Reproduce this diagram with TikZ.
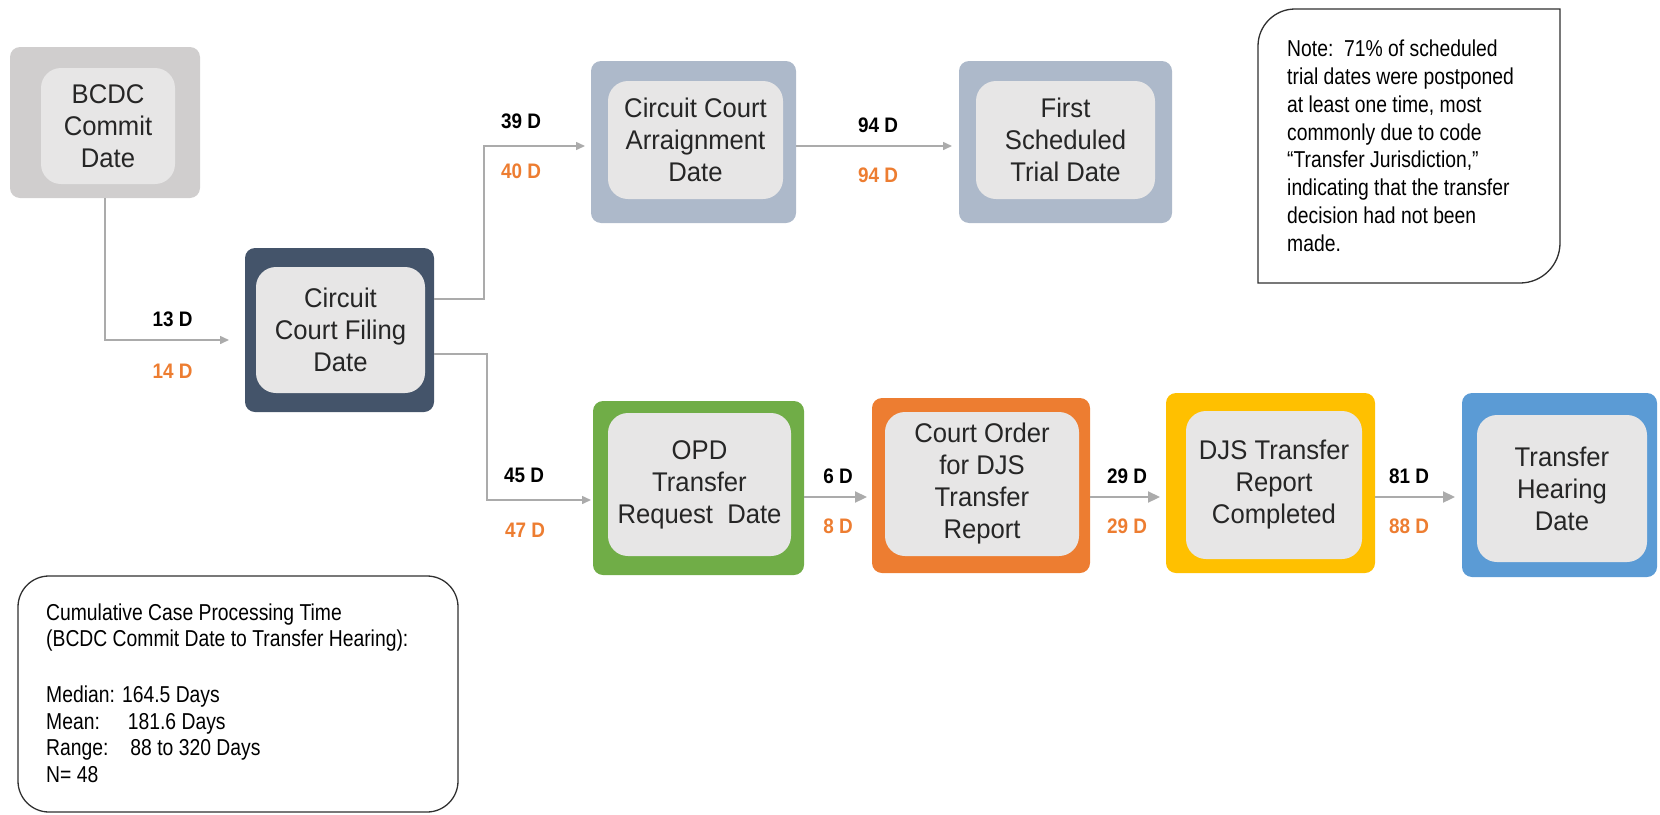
\documentclass[tikz,border=0pt]{standalone}
\usepackage{fontspec}
\setmainfont{Liberation Sans}
\newfontfamily\boxfont[FakeStretch=0.95]{Liberation Sans}
\newfontfamily\notefont[FakeStretch=0.84]{Liberation Sans}
\newfontfamily\labfont[FakeStretch=0.9]{Liberation Sans}
\usetikzlibrary{arrows.meta,calc}
\definecolor{innerfill}{HTML}{E7E6E6}
\definecolor{boxtext}{HTML}{262626}
\definecolor{graybox}{HTML}{D0CECE}
\definecolor{navybox}{HTML}{44546A}
\definecolor{bluegray}{HTML}{ADB9CA}
\definecolor{greenbox}{HTML}{70AD47}
\definecolor{orangec}{HTML}{ED7D31}
\definecolor{yellowbox}{HTML}{FFC000}
\definecolor{bluebox}{HTML}{5B9BD5}
\definecolor{arrowgray}{HTML}{ABABAB}
\definecolor{framec}{HTML}{303030}
\begin{document}
\begin{tikzpicture}[x=1pt,y=-1pt,
  outerbox/.style={rectangle,rounded corners=10pt,inner sep=0pt,outer sep=0pt,draw=none},
  innerbox/.style={rectangle,rounded corners=20pt,fill=innerfill,inner sep=0pt,outer sep=0pt,align=center,text=boxtext,font=\boxfont\fontsize{27}{32}\selectfont},
  thinarrow/.style={draw=arrowgray,line width=1.5pt,-{Triangle[length=9pt,width=8pt]}},
  thickarrow/.style={draw=arrowgray,line width=2.2pt,-{Triangle[length=12pt,width=11pt]}},
  blacklab/.style={anchor=base,font=\labfont\bfseries\fontsize{21}{24}\selectfont,text=black,inner sep=0pt},
  orangelab/.style={blacklab,text=orangec},
  frametext/.style={anchor=north west,align=left,inner sep=0pt,text=black}
]
\useasboundingbox (0,0) rectangle (1660,814);

% outer boxes
\node[outerbox,fill=graybox,minimum width=190pt,minimum height=151pt] (bcdc) at (105,122.5) {};
\node[outerbox,fill=navybox,minimum width=189pt,minimum height=164pt] (filing) at (339.5,330) {};
\node[outerbox,fill=bluegray,minimum width=205pt,minimum height=162pt] (arr) at (693.5,142) {};
\node[outerbox,fill=bluegray,minimum width=213pt,minimum height=162pt] (trial) at (1065.5,142) {};
\node[outerbox,fill=greenbox,minimum width=211pt,minimum height=174pt] (opd) at (698.5,488) {};
\node[outerbox,fill=orangec,minimum width=218pt,minimum height=175pt] (court) at (981,485.5) {};
\node[outerbox,fill=yellowbox,minimum width=209pt,minimum height=180pt] (djs) at (1270.5,483) {};
\node[outerbox,fill=bluebox,minimum width=195pt,minimum height=184pt] (th) at (1559.5,485) {};

% inner boxes with text
\node[innerbox,minimum width=134pt,minimum height=116pt] (bcdci) at (108,126) {BCDC\\Commit\\Date};
\node[innerbox,minimum width=169pt,minimum height=126pt] (filingi) at (340.5,330) {Circuit\\Court Filing\\Date};
\node[innerbox,minimum width=175pt,minimum height=118pt] (arri) at (695.5,140) {Circuit Court\\Arraignment\\Date};
\node[innerbox,minimum width=179pt,minimum height=118pt] (triali) at (1065.5,140) {First\\Scheduled\\Trial Date};
\node[innerbox,minimum width=183pt,minimum height=143pt] (opdi) at (699.5,484.5) {OPD\\Transfer\\Request\ \ Date};
\node[innerbox,minimum width=194pt,minimum height=144pt] (courti) at (982,484) {Court Order\\for DJS\\Transfer\\Report};
\node[innerbox,minimum width=176pt,minimum height=148pt] (djsi) at (1274,485) {DJS Transfer\\Report\\Completed};
\node[innerbox,minimum width=170pt,minimum height=147pt] (thi) at (1562,488.5) {Transfer\\Hearing\\Date};

% connectors
\coordinate (t1) at (229,340);
\draw[thinarrow] (bcdc.south) |- (t1);
\coordinate (t2) at (585,146);
\draw[thinarrow] ([yshift=31pt]filing.east) -- ++(50,0) |- (t2);
\coordinate (t3) at (591,500);
\draw[thinarrow] ([yshift=-24pt]filing.east) -- ++(53,0) |- (t3);
\coordinate (t4) at (952,146);
\draw[thinarrow] (arr.east |- t4) -- (t4);
\coordinate (t5) at (867,497);
\draw[thickarrow] (opd.east |- t5) -- (t5);
\coordinate (t6) at (1160,497);
\draw[thickarrow] (court.east |- t6) -- (t6);
\coordinate (t7) at (1455,497);
\draw[thickarrow] (djs.east |- t7) -- (t7);

% labels
\node[blacklab] (l13) at (172.6,326) {13 D};
\node[orangelab] (l14) at (172.6,378) {14 D};
\node[blacklab] (l39) at (521,128) {39 D};
\node[orangelab] (l40) at (521,178) {40 D};
\node[blacklab] (l45) at (524,482) {45 D};
\node[orangelab] (l47) at (525,537) {47 D};
\node[blacklab] (l94a) at (878,132) {94 D};
\node[orangelab] (l94b) at (878,182) {94 D};
\node[blacklab] (l6) at (838,483) {6 D};
\node[orangelab] (l8) at (838,533) {8 D};
\node[blacklab] (l29a) at (1127,483) {29 D};
\node[orangelab] (l29b) at (1127,533) {29 D};
\node[blacklab] (l81) at (1409,483) {81 D};
\node[orangelab] (l88) at (1409,533) {88 D};

% note box
\draw[framec,line width=1.3pt] (1258,283) -- (1258,46) .. controls (1258,25.6) and (1274.6,9) .. (1295,9) -- (1560,9) -- (1560,243) .. controls (1560,265.1) and (1542.1,283) .. (1520,283) -- cycle;
\node[frametext,font=\notefont\fontsize{23}{27.9}\selectfont] (note) at (1287,39.5) {Note:\ \ 71\% of scheduled\\trial dates were postponed\\at least one time, most\\commonly due to code\\“Transfer Jurisdiction,”\\indicating that the transfer\\decision had not been\\made.};

% cumulative box
\draw[framec,line width=1.3pt,rounded corners=31pt] (18,576) rectangle (458,812);
\node[frametext,font=\notefont\fontsize{23}{26.5}\selectfont] (cumul) at (46,603.5) {Cumulative Case Processing Time\\(BCDC Commit Date to Transfer Hearing):\\[29.5pt]Median: 164.5 Days\\Mean:\hspace*{28pt}181.6 Days\\Range:\hspace*{22pt}88 to 320 Days\\N= 48};
\end{tikzpicture}
\end{document}
